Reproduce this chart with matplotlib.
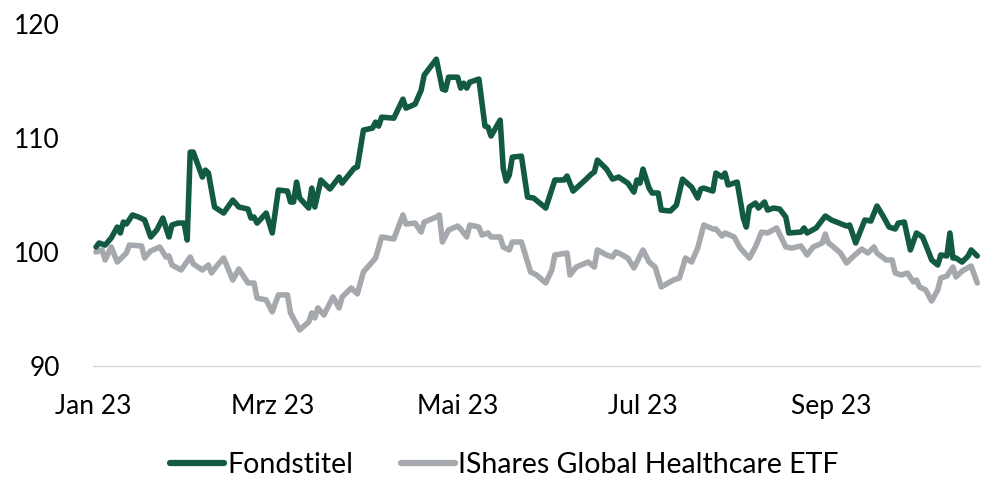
import matplotlib
matplotlib.use("Agg")
import matplotlib.pyplot as plt
import matplotlib.dates as mdates
import pandas as pd

plt.rcParams['font.family'] = ['Lato', 'DejaVu Sans']

fond_dates = [
    "2023-01-02", "2023-01-03", "2023-01-05", "2023-01-07", "2023-01-09", "2023-01-10",
    "2023-01-11", "2023-01-12", "2023-01-14", "2023-01-16", "2023-01-18", "2023-01-20",
    "2023-01-22", "2023-01-24", "2023-01-26", "2023-01-27", "2023-01-29", "2023-01-31",
    "2023-02-01", "2023-02-02", "2023-02-03", "2023-02-06", "2023-02-07", "2023-02-08",
    "2023-02-10", "2023-02-13", "2023-02-16", "2023-02-18", "2023-02-21", "2023-02-22",
    "2023-02-23", "2023-02-24", "2023-02-27", "2023-03-01", "2023-03-03", "2023-03-06",
    "2023-03-07", "2023-03-08", "2023-03-09", "2023-03-10", "2023-03-13", "2023-03-14",
    "2023-03-15", "2023-03-17", "2023-03-20", "2023-03-23", "2023-03-24", "2023-03-28",
    "2023-03-29", "2023-03-31", "2023-04-03", "2023-04-04", "2023-04-05", "2023-04-06",
    "2023-04-10", "2023-04-13", "2023-04-14", "2023-04-17", "2023-04-19", "2023-04-20",
    "2023-04-24", "2023-04-26", "2023-04-27", "2023-04-28", "2023-05-01", "2023-05-02",
    "2023-05-03", "2023-05-04", "2023-05-05", "2023-05-08", "2023-05-10", "2023-05-11",
    "2023-05-12", "2023-05-15", "2023-05-16", "2023-05-17", "2023-05-18", "2023-05-19",
    "2023-05-22", "2023-05-24", "2023-05-26", "2023-05-30", "2023-06-02", "2023-06-05",
    "2023-06-06", "2023-06-08", "2023-06-12", "2023-06-14", "2023-06-15", "2023-06-16",
    "2023-06-19", "2023-06-21", "2023-06-23", "2023-06-26", "2023-06-28", "2023-06-29",
    "2023-06-30", "2023-07-01", "2023-07-03", "2023-07-04", "2023-07-06", "2023-07-07",
    "2023-07-10", "2023-07-12", "2023-07-14", "2023-07-17", "2023-07-19", "2023-07-20",
    "2023-07-21", "2023-07-24", "2023-07-25", "2023-07-27", "2023-07-28", "2023-07-29",
    "2023-08-01", "2023-08-03", "2023-08-04", "2023-08-05", "2023-08-07", "2023-08-08",
    "2023-08-10", "2023-08-11", "2023-08-13", "2023-08-15", "2023-08-17", "2023-08-18",
    "2023-08-22", "2023-08-23", "2023-08-24", "2023-08-27", "2023-08-30", "2023-09-01",
    "2023-09-06", "2023-09-07", "2023-09-09", "2023-09-12", "2023-09-14", "2023-09-16",
    "2023-09-18", "2023-09-20", "2023-09-22", "2023-09-23", "2023-09-25", "2023-09-27",
    "2023-09-29", "2023-10-01", "2023-10-03", "2023-10-04", "2023-10-06", "2023-10-07",
    "2023-10-09", "2023-10-10", "2023-10-11", "2023-10-12", "2023-10-14", "2023-10-16",
    "2023-10-17", "2023-10-19",
]
fond_values = [
    100.44, 100.79, 100.61, 101.23, 102.19, 101.67,
    102.63, 102.46, 103.25, 103.07, 102.81, 101.32,
    101.93, 102.98, 101.32, 102.37, 102.54, 102.54,
    101.05, 108.77, 108.77, 106.58, 107.19, 106.93,
    103.95, 103.42, 104.56, 103.95, 103.77, 102.98,
    103.07, 102.54, 103.42, 101.67, 105.44, 105.35,
    104.39, 104.39, 106.14, 104.74, 103.86, 105.61,
    103.95, 106.32, 105.53, 106.58, 106.05, 107.37,
    107.46, 110.70, 110.88, 111.40, 111.05, 111.84,
    111.75, 113.42, 112.63, 112.98, 114.21, 115.53,
    116.93, 114.30, 114.21, 115.35, 115.35, 114.39,
    114.82, 114.39, 114.91, 115.18, 111.05, 110.96,
    110.18, 111.58, 107.37, 106.23, 106.75, 108.33,
    108.42, 104.82, 104.74, 103.86, 106.32, 106.32,
    106.67, 105.35, 106.32, 106.84, 107.02, 108.07,
    107.28, 106.40, 106.58, 106.05, 105.26, 106.32,
    106.05, 107.28, 105.61, 105.18, 105.18, 103.68,
    103.60, 104.12, 106.40, 105.70, 104.74, 105.53,
    105.61, 105.35, 106.93, 106.58, 106.93, 105.88,
    106.14, 102.98, 102.19, 103.95, 104.30, 103.86,
    104.39, 103.68, 103.86, 103.77, 103.07, 101.67,
    101.75, 102.11, 101.67, 102.11, 103.16, 102.81,
    102.28, 102.37, 100.79, 102.81, 102.72, 104.04,
    103.16, 102.19, 102.02, 102.54, 102.63, 100.18,
    101.67, 101.32, 100.00, 99.30, 98.86, 99.74,
    99.65, 101.67, 99.47, 99.47, 99.12, 99.65,
    100.18, 99.65,
]

etf_dates = [
    "2023-01-02", "2023-01-04", "2023-01-05", "2023-01-07", "2023-01-09", "2023-01-12",
    "2023-01-13", "2023-01-17", "2023-01-18", "2023-01-20", "2023-01-23", "2023-01-25",
    "2023-01-26", "2023-01-27", "2023-01-30", "2023-02-02", "2023-02-03", "2023-02-06",
    "2023-02-08", "2023-02-09", "2023-02-11", "2023-02-13", "2023-02-16", "2023-02-18",
    "2023-02-21", "2023-02-23", "2023-02-24", "2023-02-27", "2023-03-01", "2023-03-03",
    "2023-03-06", "2023-03-07", "2023-03-10", "2023-03-13", "2023-03-14", "2023-03-15",
    "2023-03-16", "2023-03-18", "2023-03-21", "2023-03-23", "2023-03-24", "2023-03-27",
    "2023-03-29", "2023-03-31", "2023-04-04", "2023-04-06", "2023-04-10", "2023-04-13",
    "2023-04-14", "2023-04-17", "2023-04-19", "2023-04-20", "2023-04-24", "2023-04-25",
    "2023-04-26", "2023-04-28", "2023-05-01", "2023-05-02", "2023-05-04", "2023-05-05",
    "2023-05-08", "2023-05-09", "2023-05-11", "2023-05-12", "2023-05-15", "2023-05-16",
    "2023-05-18", "2023-05-19", "2023-05-22", "2023-05-25", "2023-05-27", "2023-05-30",
    "2023-06-01", "2023-06-02", "2023-06-06", "2023-06-07", "2023-06-09", "2023-06-13",
    "2023-06-15", "2023-06-16", "2023-06-19", "2023-06-21", "2023-06-22", "2023-06-23",
    "2023-06-26", "2023-06-28", "2023-07-01", "2023-07-03", "2023-07-05", "2023-07-07",
    "2023-07-11", "2023-07-13", "2023-07-15", "2023-07-17", "2023-07-19", "2023-07-21",
    "2023-07-24", "2023-07-25", "2023-07-27", "2023-07-28", "2023-07-31", "2023-08-02",
    "2023-08-05", "2023-08-07", "2023-08-09", "2023-08-11", "2023-08-14", "2023-08-17",
    "2023-08-19", "2023-08-22", "2023-08-24", "2023-08-26", "2023-08-29", "2023-08-30",
    "2023-08-31", "2023-09-01", "2023-09-04", "2023-09-06", "2023-09-08", "2023-09-11",
    "2023-09-13", "2023-09-15", "2023-09-16", "2023-09-19", "2023-09-21", "2023-09-22",
    "2023-09-24", "2023-09-26", "2023-09-28", "2023-09-29", "2023-09-30", "2023-10-02",
    "2023-10-04", "2023-10-06", "2023-10-07", "2023-10-09", "2023-10-11", "2023-10-12",
    "2023-10-14", "2023-10-17", "2023-10-19",
]
etf_values = [
    100.00, 100.18, 99.30, 100.44, 99.12, 99.91,
    100.61, 100.53, 99.47, 100.09, 100.44, 99.56,
    99.65, 98.86, 98.42, 99.56, 98.95, 98.42,
    98.86, 98.16, 98.86, 99.47, 97.54, 98.51,
    97.28, 97.28, 95.96, 95.79, 94.74, 96.23,
    96.23, 94.65, 93.16, 93.86, 94.65, 94.21,
    95.09, 94.47, 96.05, 95.09, 96.05, 96.84,
    96.32, 98.25, 99.47, 101.32, 101.14, 103.25,
    102.46, 102.54, 101.75, 102.63, 103.07, 103.25,
    100.88, 101.93, 102.28, 102.02, 101.32, 102.37,
    102.19, 101.49, 101.67, 101.32, 101.32, 100.44,
    100.18, 100.88, 100.88, 98.25, 97.98, 97.28,
    98.42, 99.74, 99.91, 97.98, 98.68, 99.12,
    98.68, 100.18, 99.74, 99.56, 100.00, 99.91,
    99.47, 98.60, 100.18, 99.12, 98.68, 96.93,
    97.54, 97.72, 99.47, 99.12, 100.35, 102.37,
    102.02, 102.02, 101.40, 101.67, 101.32, 100.35,
    99.47, 100.44, 101.75, 101.67, 102.11, 100.44,
    100.35, 100.53, 99.74, 100.44, 100.79, 101.58,
    100.79, 100.61, 99.91, 99.04, 99.56, 100.26,
    99.91, 100.44, 99.91, 99.30, 99.30, 98.16,
    97.98, 98.16, 97.37, 97.54, 96.93, 96.67,
    95.70, 96.67, 97.72, 97.89, 98.68, 97.81,
    98.33, 98.77, 97.28,
]

series_labels = ["Fondstitel", "IShares Global Healthcare ETF"]
y_ticks = [90, 100, 110, 120]
x_tick_dates = ["2023-01-01", "2023-03-01", "2023-05-01", "2023-07-01", "2023-09-01"]
x_tick_labels = ["Jan 23", "Mrz 23", "Mai 23", "Jul 23", "Sep 23"]

green = "#135A45"
grey = "#A5A9AD"

fig = plt.figure(figsize=(9.87, 4.84), dpi=100)
ax = fig.add_axes([0.0942, 0.244, 0.899, 0.706])

ax.plot(pd.to_datetime(fond_dates), fond_values, color=green, lw=4.0,
        solid_joinstyle="round", solid_capstyle="round", label=series_labels[0], zorder=3)
ax.plot(pd.to_datetime(etf_dates), etf_values, color=grey, lw=4.0,
        solid_joinstyle="round", solid_capstyle="round", label=series_labels[1], zorder=2)

ax.set_ylim(90, 120)
ax.set_yticks(y_ticks)
ax.set_xlim(pd.Timestamp("2023-01-01"), pd.Timestamp("2023-10-20"))
ax.set_xticks(pd.to_datetime(x_tick_dates))
ax.set_xticklabels(x_tick_labels)

for s in ["top", "right", "left"]:
    ax.spines[s].set_visible(False)
ax.spines["bottom"].set_color("#D9D9D9")
ax.spines["bottom"].set_linewidth(1.0)

ax.tick_params(axis="both", length=0, labelsize=19, colors="#000000")
ax.tick_params(axis="y", pad=24)
ax.tick_params(axis="x", pad=20)

leg = fig.legend(loc="center", bbox_to_anchor=(0.511, 0.04), ncol=2, frameon=False,
                 fontsize=20.5, handlelength=1.9, handletextpad=0.1, columnspacing=1.7)
for line in leg.get_lines():
    line.set_linewidth(4.5)

fig.savefig("out.png", dpi=100)
